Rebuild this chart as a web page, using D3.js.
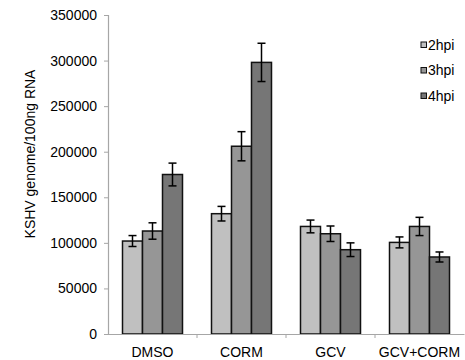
<!DOCTYPE html>
<html>
<head>
<meta charset="utf-8">
<script src="https://cdn.jsdelivr.net/npm/d3@7"></script>
<style>
  body { margin: 0; background: #fff; }
  svg text { font-family: "Liberation Sans", Arial, sans-serif; fill: #000; }
</style>
</head>
<body>
<svg id="chart" width="465" height="360"></svg>
<script>
// data
const categories = ['DMSO', 'CORM', 'GCV', 'GCV+CORM'];
const seriesNames = ['2hpi', '3hpi', '4hpi'];
const values2hpi = [102000, 132000, 118000, 100500];
const values3hpi = [113000, 206000, 110000, 118000];
const values4hpi = [175000, 298000, 92500, 84500];
const errors2hpi = [6000, 8000, 7000, 6000];
const errors3hpi = [9000, 16000, 8500, 10000];
const errors4hpi = [12500, 21000, 7500, 5500];
const yTicks = [0, 50000, 100000, 150000, 200000, 250000, 300000, 350000];

const colors = ['#c0c0c0', '#969696', '#767676'];
const allValues = [values2hpi, values3hpi, values4hpi];
const allErrors = [errors2hpi, errors3hpi, errors4hpi];

const svg = d3.select('#chart');
const margin = { left: 108, right: 1, top: 15, bottom: 26 };
const width = 465, height = 360;

const x = d3.scaleBand()
  .domain(categories)
  .range([margin.left, width - margin.right])
  .paddingInner(0)
  .paddingOuter(0);

const xInner = d3.scaleBand()
  .domain(seriesNames)
  .range([0, x.bandwidth()])
  .paddingOuter(0.725);

const y = d3.scaleLinear()
  .domain([0, 350000])
  .range([height - margin.bottom, margin.top]);

// bars
const groups = svg.append('g')
  .selectAll('g')
  .data(categories)
  .join('g')
  .attr('transform', d => `translate(${x(d)},0)`);

seriesNames.forEach((s, si) => {
  groups.append('rect')
    .attr('x', xInner(s))
    .attr('width', xInner.bandwidth())
    .attr('y', (d, i) => y(allValues[si][i]))
    .attr('height', (d, i) => y(0) - y(allValues[si][i]))
    .attr('fill', colors[si])
    .attr('stroke', '#111')
    .attr('stroke-width', 1.5);
});

// error bars
seriesNames.forEach((s, si) => {
  const cx = xInner(s) + xInner.bandwidth() / 2;
  const eb = groups.append('g')
    .attr('stroke', '#000')
    .attr('stroke-width', 1.5);
  eb.append('line')
    .attr('x1', cx).attr('x2', cx)
    .attr('y1', (d, i) => y(allValues[si][i] + allErrors[si][i]))
    .attr('y2', (d, i) => y(allValues[si][i] - allErrors[si][i]));
  [1, -1].forEach(sign => {
    eb.append('line')
      .attr('x1', cx - 4).attr('x2', cx + 4)
      .attr('y1', (d, i) => y(allValues[si][i] + sign * allErrors[si][i]))
      .attr('y2', (d, i) => y(allValues[si][i] + sign * allErrors[si][i]));
  });
});

// y axis
const yAxis = svg.append('g')
  .attr('transform', `translate(${margin.left},0)`)
  .call(d3.axisLeft(y).tickValues(yTicks).tickSize(4).tickPadding(7).tickFormat(d3.format('d')));
yAxis.select('.domain').attr('stroke', '#a6a6a6').attr('stroke-width', 1.2);
yAxis.selectAll('.tick line').attr('stroke', '#a6a6a6');
yAxis.selectAll('text').style('font-size', '14px');

// x axis
const xAxis = svg.append('g')
  .attr('transform', `translate(0,${y(0)})`)
  .call(d3.axisBottom(x).tickSize(0).tickPadding(13));
xAxis.select('.domain').attr('stroke', '#a6a6a6').attr('stroke-width', 1.2);
xAxis.selectAll('text').style('font-size', '14px');
xAxis.selectAll('.sep')
  .data(categories.slice(1))
  .join('line')
  .attr('class', 'sep')
  .attr('x1', d => x(d)).attr('x2', d => x(d))
  .attr('y1', 0).attr('y2', 4)
  .attr('stroke', '#a6a6a6');

// y label
svg.append('text')
  .attr('transform', 'translate(35,154) rotate(-90)')
  .attr('text-anchor', 'middle')
  .style('font-size', '14px')
  .text('KSHV genome/100ng RNA');

// legend
const legend = svg.append('g')
  .selectAll('g')
  .data(seriesNames)
  .join('g')
  .attr('transform', (d, i) => `translate(421,${42 + i * 25.5})`);
legend.append('rect')
  .attr('width', 5.5).attr('height', 5.5)
  .attr('fill', (d, i) => colors[i])
  .attr('stroke', '#111').attr('stroke-width', 1);
legend.append('text')
  .attr('x', 7).attr('y', 7.5)
  .style('font-size', '14px')
  .text(d => d);
</script>
</body>
</html>
